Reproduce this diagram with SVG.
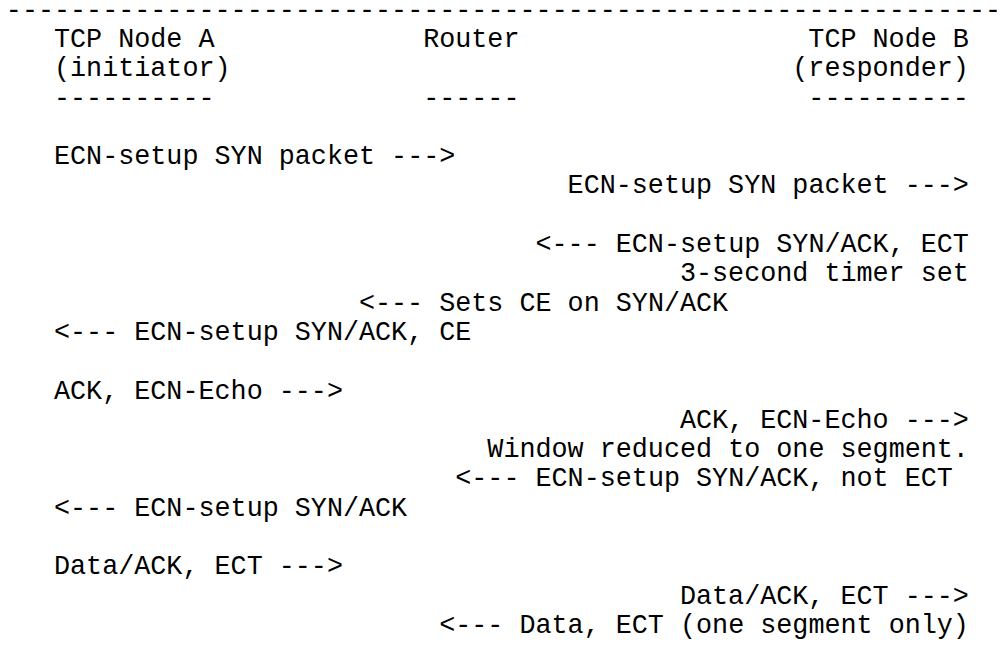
<svg xmlns="http://www.w3.org/2000/svg" width="1003" height="650" viewBox="0 0 1003 650">
<style>
  text { font-family: "Liberation Mono", "Courier New", monospace; font-size: 26.75px; fill: #000; }
</style>
<rect x="0" y="0" width="1003" height="650" fill="#fff"/>
<g id="rule-top">
  <text x="5.85" y="17.6">--------------------------------------------------------------</text>
</g>
<g id="nodeA">
  <text x="54" y="46.9">TCP Node A</text>
  <text x="54" y="76.2">(initiator)</text>
  <text x="54" y="105.5">----------</text>
</g>
<g id="router">
  <text x="423.15" y="46.9">Router</text>
  <text x="423.15" y="105.5">------</text>
</g>
<g id="nodeB">
  <text x="808.35" y="46.9">TCP Node B</text>
  <text x="792.3" y="76.2">(responder)</text>
  <text x="808.35" y="105.5">----------</text>
</g>
<g id="connectors">
  <text x="54" y="164.1">ECN-setup SYN packet ---&gt;</text>
  <text x="567.6" y="193.4">ECN-setup SYN packet ---&gt;</text>
  <text x="535.5" y="252">&lt;--- ECN-setup SYN/ACK, ECT</text>
  <text x="679.95" y="281.3">3-second timer set</text>
  <text x="358.95" y="310.6">&lt;--- Sets CE on SYN/ACK</text>
  <text x="54" y="339.9">&lt;--- ECN-setup SYN/ACK, CE</text>
  <text x="54" y="398.5">ACK, ECN-Echo ---&gt;</text>
  <text x="679.95" y="427.8">ACK, ECN-Echo ---&gt;</text>
  <text x="487.35" y="457.1">Window reduced to one segment.</text>
  <text x="455.25" y="486.4">&lt;--- ECN-setup SYN/ACK, not ECT</text>
  <text x="54" y="515.7">&lt;--- ECN-setup SYN/ACK</text>
  <text x="54" y="574.3">Data/ACK, ECT ---&gt;</text>
  <text x="679.95" y="603.6">Data/ACK, ECT ---&gt;</text>
  <text x="439.2" y="632.9">&lt;--- Data, ECT (one segment only)</text>
</g>
</svg>
